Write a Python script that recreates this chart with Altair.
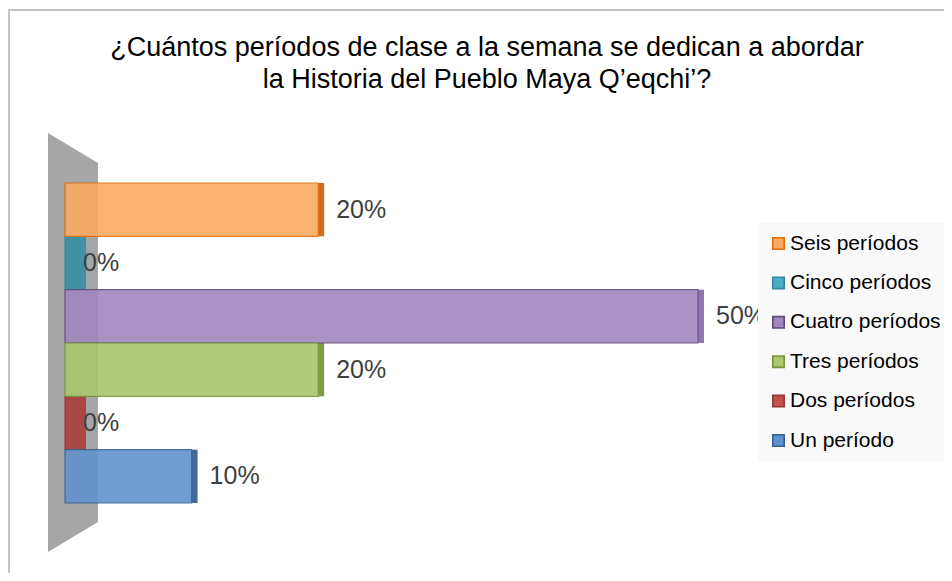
import altair as alt
import pandas as pd

# ---- data ----
categories = ["Seis períodos", "Cinco períodos", "Cuatro períodos",
              "Tres períodos", "Dos períodos", "Un período"]
shares = [0.20, 0.00, 0.50, 0.20, 0.00, 0.10]
title_lines = ["¿Cuántos períodos de clase a la semana se dedican a abordar",
               "la Historia del Pueblo Maya Q’eqchi’?"]

# ---- styles ----
front_colors = ["#fbab62", "#4bacc6", "#9f88be", "#abc66f", "#c0504d", "#6291cd"]
edge_colors = ["#e46c0a", "#31859c", "#604a7b", "#77933c", "#953735", "#376092"]
side_colors = ["#cf6d1c", "#3a8ea5", "#9079b2", "#7f9c48", "#a8413e", "#46699a"]

# decorative 3D wall (pixel geometry, not data)
wall = pd.DataFrame({"px": [40, 90], "top": [125, 155], "bot": [544, 514]})

df = pd.DataFrame({"cat": categories, "share": shares,
                   "side": side_colors})

FONT = "Liberation Sans"
x_scale = alt.Scale(domain=[0, 0.5], range=[57, 690])
y_scale = alt.Scale(domain=categories, range=[175, 495], paddingInner=0, paddingOuter=0)

X = alt.X("share:Q", scale=x_scale, axis=None)
Y = alt.Y("cat:N", scale=y_scale, axis=None, sort=categories)

legend_kw = dict(orient="none", legendX=750, legendY=215, title=None,
                 fillColor="#f9f9f9", padding=10, labelFont=FONT,
                 labelFontSize=21, labelColor="#000000", symbolType="square",
                 symbolSize=130, symbolStrokeWidth=1.6, rowPadding=17.4,
                 labelOffset=1, symbolOpacity=1, labelLimit=300)

wall_layer = alt.Chart(wall).mark_area(color="#a6a6a6", opacity=1).encode(
    x=alt.X("px:Q", scale=None, axis=None),
    y=alt.Y("top:Q", scale=None, axis=None),
    y2=alt.Y2("bot:Q"),
)

side_layer = alt.Chart(df).transform_filter("datum.share > 0").mark_rect(
    x2Offset=6).encode(
    x=X, x2=alt.X2("share:Q"), y=Y,
    fill=alt.Fill("side:N", scale=None),
)

zero_layer = alt.Chart(df).transform_filter("datum.share == 0").mark_rect(
    x2Offset=21, opacity=0.95).encode(
    x=alt.X("share:Q", scale=x_scale, axis=None), x2=alt.X2("share:Q"), y=Y,
    fill=alt.Fill("side:N", scale=None),
)

front_layer = alt.Chart(df).mark_bar(opacity=0.9, strokeWidth=1.2).encode(
    x=X, y=Y,
    color=alt.Color("cat:N", scale=alt.Scale(domain=categories, range=front_colors),
                    sort=categories, legend=alt.Legend(**legend_kw)),
    stroke=alt.Stroke("cat:N", scale=alt.Scale(domain=categories, range=edge_colors),
                      sort=categories, legend=alt.Legend(**legend_kw)),
)

label_layer = alt.Chart(df).mark_text(
    align="left", baseline="middle", dx=18, font=FONT, fontSize=25,
    color="#404040").encode(
    x=X, y=Y, text=alt.Text("share:Q", format=".0%"),
)

one = pd.DataFrame({"k": [0]})
title_layer = alt.Chart(one).mark_text(
    text=title_lines, align="center", baseline="middle", font=FONT,
    fontSize=27, lineHeight=32, color="#000000").encode(
    x=alt.value(479), y=alt.value(40),
)

border_v = alt.Chart(one).mark_rule(color="#c4c4c4", strokeWidth=2).encode(
    x=alt.value(1), y=alt.value(2), y2=alt.value(565))
border_h = alt.Chart(one).mark_rule(color="#c4c4c4", strokeWidth=2).encode(
    x=alt.value(0), x2=alt.value(936), y=alt.value(2))

chart = alt.layer(
    wall_layer, side_layer, zero_layer, front_layer, label_layer,
    title_layer, border_v, border_h,
).resolve_scale(x="independent", y="independent").properties(
    width=936, height=565, padding=0,
    autosize=alt.AutoSizeParams(type="none"),
    background="#ffffff",
).configure_view(stroke=None)

chart.save("out.html", embed_options={"renderer": "svg", "actions": False})
